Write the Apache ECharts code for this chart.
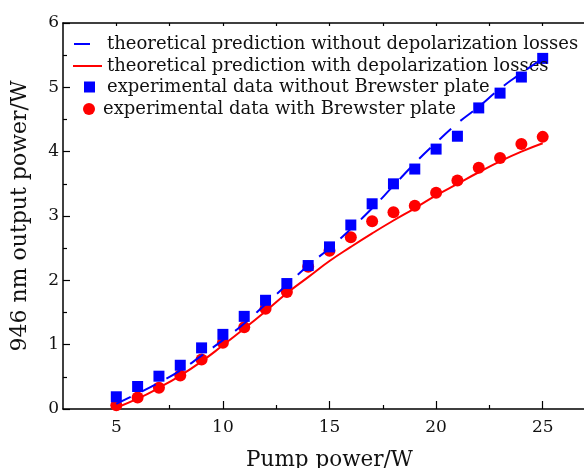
<!DOCTYPE html>
<html>
<head>
<meta charset="utf-8">
<script src="https://cdn.jsdelivr.net/npm/echarts@6/dist/echarts.min.js"></script>
<style>
  html, body { margin: 0; padding: 0; background: #fff; }
  #chart { width: 584px; height: 468px; }
</style>
</head>
<body>
<div id="chart"></div>
<script>
// ============ Data ============
const pumpPower = [5, 6, 7, 8, 9, 10, 11, 12, 13, 14, 15, 16, 17, 18, 19, 20, 21, 22, 23, 24, 25]
const expNoBrewster = [0.19, 0.35, 0.51, 0.68, 0.95, 1.16, 1.44, 1.69, 1.95, 2.23, 2.52, 2.86, 3.19, 3.50, 3.73, 4.04, 4.24, 4.68, 4.91, 5.16, 5.45]
const expBrewster = [0.06, 0.18, 0.33, 0.52, 0.77, 1.03, 1.27, 1.56, 1.82, 2.21, 2.46, 2.67, 2.92, 3.06, 3.16, 3.36, 3.55, 3.75, 3.90, 4.12, 4.23]
const theoryNoLoss = [0.08, 0.24, 0.41, 0.60, 0.83, 1.07, 1.33, 1.63, 1.93, 2.23, 2.50, 2.80, 3.12, 3.47, 3.82, 4.14, 4.44, 4.70, 4.98, 5.22, 5.45]
const theoryLoss = [0.02, 0.16, 0.33, 0.52, 0.74, 0.99, 1.25, 1.52, 1.80, 2.05, 2.30, 2.52, 2.73, 2.93, 3.12, 3.32, 3.50, 3.68, 3.85, 4.00, 4.13]
const xMajorTicks = [5, 10, 15, 20, 25]
const xMinorTicks = [7.5, 12.5, 17.5, 22.5]

const names = [
  'theoretical prediction without depolarization losses',
  'theoretical prediction with depolarization losses',
  'experimental data without Brewster plate',
  'experimental data with Brewster plate',
]

const FONT = 'DejaVu Serif'
const pairs = (ys) => pumpPower.map((x, i) => [x, ys[i]])

const chart = echarts.init(document.getElementById('chart'))

// one legend per entry so each row can sit where the original puts it
const legendText = (padLeft) => ({
  fontFamily: FONT,
  fontSize: 18,
  lineHeight: 20,
  color: '#111',
  padding: [0, 0, 0, padLeft],
})

const axisLine = { show: true, lineStyle: { color: '#000', width: 1.5 } }
const tickLine = { color: '#000', width: 1.2 }

chart.setOption({
  animation: false,
  // plot runs past the right edge of the picture, like the original crop
  grid: { left: 63, top: 23, width: 533, height: 386, outerBoundsMode: 'none' },
  legend: [
    { data: [{ name: names[0], icon: 'rect' }], left: 74, top: 34, padding: 0, itemWidth: 16, itemHeight: 2, textStyle: legendText(12) },
    { data: [{ name: names[1], icon: 'rect' }], left: 73, top: 56, padding: 0, itemWidth: 29, itemHeight: 2, textStyle: legendText(0) },
    { data: [{ name: names[2], icon: 'rect' }], left: 84, top: 77, padding: 0, itemWidth: 11, itemHeight: 11, textStyle: legendText(7) },
    { data: [{ name: names[3], icon: 'circle' }], left: 83, top: 99, padding: 0, itemWidth: 12, itemHeight: 12, textStyle: legendText(3) },
  ],
  xAxis: [
    {
      type: 'value',
      position: 'bottom',
      min: 2.5,
      max: 27.5,
      name: 'Pump power/W',
      nameLocation: 'middle',
      nameGap: 40,
      nameTextStyle: { fontFamily: FONT, fontSize: 21.5, color: '#111' },
      axisLine,
      axisTick: { show: true, inside: true, length: 8, customValues: xMajorTicks, lineStyle: tickLine },
      axisLabel: { customValues: xMajorTicks, margin: 10, fontFamily: FONT, fontSize: 17, color: '#111' },
      splitLine: { show: false },
    },
    {
      type: 'value',
      position: 'bottom',
      min: 2.5,
      max: 27.5,
      axisLine: { show: false },
      axisTick: { show: true, inside: true, length: 4, customValues: xMinorTicks, lineStyle: tickLine },
      axisLabel: { show: false },
      splitLine: { show: false },
    },
    {
      type: 'value',
      position: 'top',
      min: 2.5,
      max: 27.5,
      axisLine,
      axisTick: { show: true, inside: true, length: 3, customValues: xMajorTicks.concat(xMinorTicks), lineStyle: tickLine },
      axisLabel: { show: false },
      splitLine: { show: false },
    },
  ],
  yAxis: {
    type: 'value',
    min: 0,
    max: 6,
    interval: 1,
    name: '946 nm output power/W',
    nameLocation: 'middle',
    nameGap: 32,
    nameTextStyle: { fontFamily: FONT, fontSize: 22, color: '#111' },
    axisLine,
    axisTick: { show: true, inside: true, length: 7, lineStyle: tickLine },
    minorTick: { show: true, splitNumber: 2, length: 4, lineStyle: tickLine },
    axisLabel: { margin: 4, fontFamily: FONT, fontSize: 17, color: '#111' },
    splitLine: { show: false },
  },
  series: [
    {
      name: names[3],
      type: 'scatter',
      symbol: 'circle',
      symbolSize: 12,
      itemStyle: { color: '#ff0000', opacity: 1 },
      data: pairs(expBrewster),
      z: 2,
    },
    {
      name: names[2],
      type: 'scatter',
      symbol: 'rect',
      symbolSize: 11,
      itemStyle: { color: '#0000ff', opacity: 1 },
      data: pairs(expNoBrewster),
      z: 3,
    },
    {
      name: names[0],
      type: 'line',
      smooth: true,
      showSymbol: false,
      symbol: 'none',
      lineStyle: { color: '#0000ff', width: 2, type: [16, 12] },
      itemStyle: { color: '#0000ff' },
      data: pairs(theoryNoLoss),
      z: 4,
    },
    {
      name: names[1],
      type: 'line',
      smooth: true,
      showSymbol: false,
      symbol: 'none',
      lineStyle: { color: '#ff0000', width: 2 },
      itemStyle: { color: '#ff0000' },
      data: pairs(theoryLoss),
      z: 4,
    },
  ],
})
</script>
</body>
</html>
